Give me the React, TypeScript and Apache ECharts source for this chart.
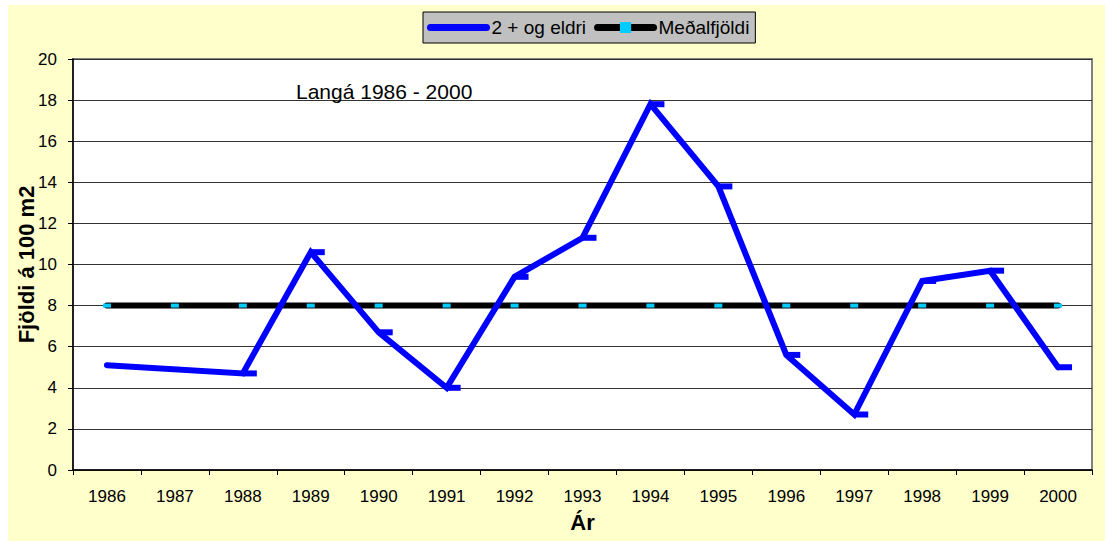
import React, { useEffect, useRef } from "react";
import * as echarts from "echarts";

const years = ["1986", "1987", "1988", "1989", "1990", "1991", "1992", "1993", "1994", "1995", "1996", "1997", "1998", "1999", "2000"];
const fishValues: (number | null)[] = [5.1, null, 4.7, 10.6, 6.7, 4.0, 9.4, 11.3, 17.8, 13.8, 5.6, 2.7, 9.2, 9.7, 5.0];
const meanValues = [8, 8, 8, 8, 8, 8, 8, 8, 8, 8, 8, 8, 8, 8, 8];
const seriesNames = ["2 + og eldri", "Meðalfjöldi"];
const chartTitle = "Langá 1986 - 2000";
const yName = "Fjöldi á 100 m2";
const xName = "Ár";
const yMin = 0;
const yMax = 20;
const yInterval = 2;

const FONT = "'Liberation Sans', Arial, sans-serif";

export default function App() {
  const ref = useRef<HTMLDivElement>(null);
  useEffect(() => {
    if (!ref.current) return;
    const chart = echarts.init(ref.current, null, { renderer: "svg" });
    const fishData = fishValues.map((v, i) => (i === 0 ? { value: v, symbol: "none" } : v));
    chart.setOption({
      animation: false,
      backgroundColor: "#FFFFCC",
      textStyle: { fontFamily: FONT },
      legend: {
        data: [
          { name: seriesNames[0], itemStyle: { opacity: 0 } },
          { name: seriesNames[1] },
        ],
        left: 415,
        top: 7,
        orient: "horizontal",
        backgroundColor: "#C0C0C0",
        borderColor: "#000",
        borderWidth: 1,
        borderRadius: 0,
        padding: [6, 6, 6, 4],
        itemWidth: 56,
        itemHeight: 14,
        itemGap: 8,
        lineStyle: { width: 7, cap: "round" },
        textStyle: { fontSize: 19, color: "#000", fontFamily: FONT },
      },
      grid: {
        left: 65,
        right: 13,
        top: 54,
        bottom: 71,
        outerBoundsMode: "none",
        containLabel: false,
        show: true,
        backgroundColor: "#FFFFFF",
        borderColor: "#808080",
        borderWidth: 2,
      },
      graphic: [
        {
          type: "text",
          left: 288,
          top: 76,
          z: 1,
          style: { text: chartTitle, font: `21px ${FONT}`, fill: "#000" },
        },
      ],
      xAxis: {
        type: "category",
        data: years,
        boundaryGap: true,
        name: xName,
        nameLocation: "middle",
        nameGap: 41,
        nameMoveOverlap: false,
        nameTextStyle: { fontSize: 22, fontWeight: "bold", color: "#000", fontFamily: FONT },
        axisLine: { lineStyle: { color: "#000", width: 1.5 } },
        axisTick: { show: true, length: 5, lineStyle: { color: "#000" } },
        axisLabel: { fontSize: 17, color: "#000", margin: 18, fontFamily: FONT },
        splitLine: { show: false },
      },
      yAxis: {
        type: "value",
        min: yMin,
        max: yMax,
        interval: yInterval,
        name: yName,
        nameLocation: "middle",
        nameGap: 36,
        nameMoveOverlap: false,
        nameTextStyle: { fontSize: 22, fontWeight: "bold", color: "#000", fontFamily: FONT },
        axisLine: { show: true, lineStyle: { color: "#000", width: 1.5 } },
        axisTick: { show: true, length: 5, lineStyle: { color: "#000" } },
        axisLabel: { fontSize: 17, color: "#000", margin: 16, fontFamily: FONT },
        splitLine: { show: true, lineStyle: { color: "#333", width: 1 } },
      },
      series: [
        {
          name: seriesNames[0],
          type: "line",
          data: fishData,
          connectNulls: true,
          z: 4,
          symbol: "rect",
          symbolSize: [14, 6],
          symbolOffset: [7, 0],
          showAllSymbol: true,
          itemStyle: { color: "#0000FF" },
          lineStyle: { color: "#0000FF", width: 6, cap: "round", join: "miter" },
        },
        {
          name: seriesNames[1],
          type: "line",
          data: meanValues,
          z: 3,
          symbol: "rect",
          symbolSize: [8, 4],
          showAllSymbol: true,
          itemStyle: { color: "#00CCFF" },
          lineStyle: { color: "#000000", width: 6, cap: "round" },
        },
      ],
    });
    return () => chart.dispose();
  }, []);
  return (
    <div
      ref={ref}
      style={{ position: "absolute", left: 8, top: 5, width: 1097, height: 536 }}
    />
  );
}
